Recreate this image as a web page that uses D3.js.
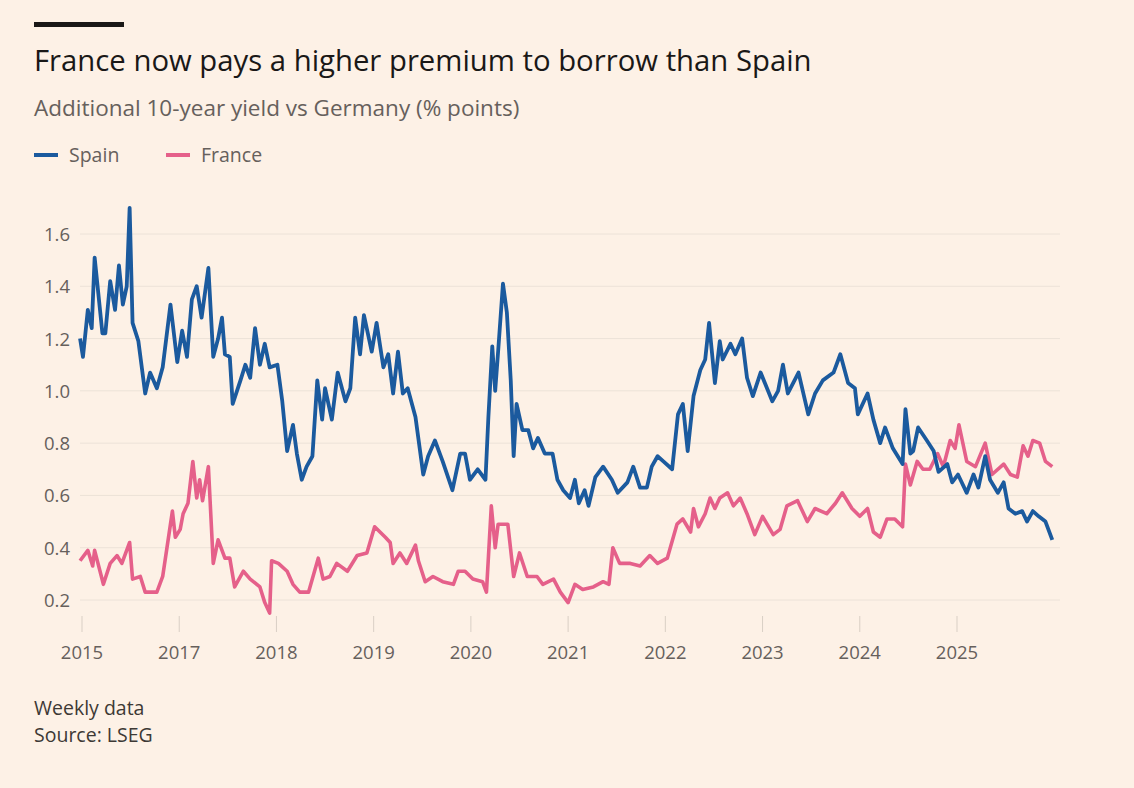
<!DOCTYPE html>
<html>
<head>
<meta charset="utf-8">
<title>France vs Spain spreads</title>
<script src="https://cdn.jsdelivr.net/npm/d3@7/dist/d3.min.js"></script>
<style>
  body { margin: 0; background: #fdf1e6; }
  svg { font-family: "Open Sans", "Noto Sans", sans-serif; }
</style>
</head>
<body>
<svg id="chart" width="1134" height="788"></svg>
<script>
// years since start of 2015 (tick positions) and values, % points
var spainT = [-0.02,0.01,0.06,0.10,0.13,0.21,0.24,0.29,0.34,0.38,0.42,0.46,0.49,0.52,0.58,0.65,0.70,0.77,0.83,0.91,0.98,1.03,1.08,1.13,1.18,1.23,1.30,1.35,1.40,1.44,1.47,1.52,1.55,1.63,1.68,1.73,1.78,1.83,1.88,1.93,2.01,2.06,2.11,2.17,2.21,2.26,2.31,2.37,2.42,2.47,2.50,2.57,2.63,2.71,2.76,2.81,2.86,2.90,2.98,3.03,3.10,3.15,
  3.20,3.25,3.30,3.35,3.43,3.51,3.56,3.63,3.71,3.81,3.89,3.94,3.99,4.07,4.15,4.18,4.22,4.25,4.28,4.33,4.37,4.41,4.44,4.47,4.53,4.59,4.64,4.69,4.76,4.84,4.89,4.95,5.02,5.07,5.11,5.17,5.21,5.28,5.36,5.45,5.51,5.61,5.67,5.74,5.81,5.86,5.92,5.98,6.07,6.13,6.18,6.23,6.29,6.36,6.41,6.45,6.51,
  6.56,6.59,6.67,6.72,6.79,6.84,6.90,6.98,7.10,7.16,7.21,7.26,7.37,7.47,7.54,7.62,7.73,7.80,7.88,7.95,7.98,8.08,8.14,8.21,8.26,8.34,8.44,8.47,8.52,8.55,8.60,8.69,8.76,8.81,8.90,8.95,9.01,9.10,9.17,9.22,9.29,9.34,9.42,9.48,9.53,9.60,9.67,9.72,9.78,9.84,9.91,9.98];
var spainV = [1.20,1.13,1.31,1.24,1.51,1.22,1.22,1.42,1.31,1.48,1.33,1.40,1.70,1.26,1.19,0.99,1.07,1.01,1.09,1.33,1.11,1.23,1.13,1.35,1.40,1.28,1.47,1.13,1.20,1.28,1.14,1.13,0.95,1.04,1.10,1.05,1.24,1.10,1.18,1.09,1.10,0.96,0.77,0.87,0.76,0.66,0.71,0.75,1.04,0.89,1.01,0.89,1.07,0.96,1.01,1.28,1.14,1.29,1.15,1.26,1.09,1.14,
  0.99,1.15,0.99,1.01,0.90,0.68,0.75,0.81,0.73,0.62,0.76,0.76,0.66,0.70,0.66,0.90,1.17,1.00,1.15,1.41,1.30,1.04,0.75,0.95,0.85,0.85,0.78,0.82,0.76,0.76,0.66,0.62,0.59,0.66,0.57,0.62,0.56,0.67,0.71,0.66,0.61,0.65,0.71,0.63,0.63,0.71,0.75,0.73,0.70,0.91,0.95,0.77,0.98,1.08,1.12,1.26,1.03,
  1.19,1.12,1.18,1.14,1.20,1.05,0.98,1.07,0.96,1.00,1.10,0.99,1.07,0.91,0.99,1.04,1.07,1.14,1.03,1.01,0.91,0.99,0.89,0.80,0.86,0.78,0.72,0.93,0.76,0.77,0.86,0.81,0.77,0.69,0.72,0.65,0.68,0.61,0.68,0.63,0.75,0.66,0.61,0.65,0.55,0.53,0.54,0.50,0.54,0.52,0.50,0.43];

var franceT = [-0.02,0.06,0.11,0.13,0.22,0.29,0.36,0.41,0.49,0.52,0.60,0.65,0.77,0.83,0.93,0.96,1.01,1.04,1.09,1.14,1.18,1.21,1.24,1.30,1.35,1.40,1.47,1.52,1.57,1.66,1.73,1.83,1.88,1.93,1.95,2.02,2.11,2.17,2.24,2.33,2.43,2.48,2.55,2.62,2.73,2.83,2.93,3.01,3.12,
  3.17,3.20,3.27,3.34,3.43,3.46,3.53,3.61,3.71,3.82,3.87,3.94,4.02,4.12,4.16,4.21,4.25,4.28,4.38,4.44,4.50,4.58,4.68,4.74,4.85,4.92,5.00,5.07,5.15,5.26,5.36,5.42,5.46,5.53,5.64,5.74,5.84,5.92,6.02,6.12,6.18,6.26,6.29,6.34,6.41,6.46,6.51,
  6.56,6.64,6.70,6.77,6.84,6.92,7.00,7.11,7.18,7.25,7.36,7.46,7.54,7.66,7.75,7.82,7.92,8.00,8.08,8.14,8.21,8.28,8.36,8.44,8.47,8.52,8.59,8.65,8.72,8.80,8.86,8.93,8.98,9.02,9.10,9.19,9.29,9.36,9.48,9.55,9.62,9.68,9.73,9.78,9.85,9.91,9.98];
var franceV = [0.35,0.39,0.33,0.39,0.26,0.34,0.37,0.34,0.42,0.28,0.29,0.23,0.23,0.29,0.54,0.44,0.47,0.53,0.57,0.73,0.59,0.66,0.58,0.71,0.34,0.43,0.36,0.36,0.25,0.31,0.28,0.25,0.19,0.15,0.35,0.34,0.31,0.26,0.23,0.23,0.36,0.28,0.29,0.34,0.31,0.37,0.38,0.48,0.44,
  0.42,0.34,0.38,0.34,0.41,0.35,0.27,0.29,0.27,0.26,0.31,0.31,0.28,0.27,0.23,0.56,0.40,0.49,0.49,0.29,0.38,0.29,0.29,0.26,0.28,0.23,0.19,0.26,0.24,0.25,0.27,0.26,0.40,0.34,0.34,0.33,0.37,0.34,0.36,0.49,0.51,0.46,0.55,0.48,0.53,0.59,0.55,
  0.59,0.61,0.56,0.59,0.53,0.45,0.52,0.45,0.47,0.56,0.58,0.50,0.55,0.53,0.57,0.61,0.55,0.52,0.55,0.46,0.44,0.51,0.51,0.48,0.72,0.64,0.73,0.70,0.70,0.76,0.71,0.81,0.78,0.87,0.73,0.71,0.80,0.68,0.72,0.68,0.67,0.79,0.75,0.81,0.80,0.73,0.71];

var tickYears = [0,1,2,3,4,5,6,7,8,9];
var tickLabels = ["2015","2017","2018","2019","2020","2021","2022","2023","2024","2025"];
var yTicks = [0.2,0.4,0.6,0.8,1.0,1.2,1.4,1.6];

var svg = d3.select("#chart");
var x = d3.scaleLinear().domain([0, 9]).range([82, 957]);
var y = d3.scaleLinear().domain([0.2, 1.6]).range([600, 234]);

svg.append("rect").attr("width",1134).attr("height",788).attr("fill","#fdf1e6");
svg.append("rect").attr("x",34).attr("y",22).attr("width",90).attr("height",5).attr("fill","#1a1817");

svg.append("text").attr("x",34).attr("y",71).attr("font-size",29.3).attr("fill","#1a1817")
  .text("France now pays a higher premium to borrow than Spain");
svg.append("text").attr("x",34).attr("y",116).attr("font-size",22.5).attr("fill","#66605c")
  .text("Additional 10-year yield vs Germany (% points)");

// legend
var legend = [["Spain","#1b5a9e",34],["France","#e5608a",166]];
legend.forEach(function(l){
  svg.append("line").attr("x1",l[2]).attr("x2",l[2]+24).attr("y1",155).attr("y2",155)
    .attr("stroke",l[1]).attr("stroke-width",4);
  svg.append("text").attr("x",l[2]+35).attr("y",162).attr("font-size",19.5).attr("fill","#66605c").text(l[0]);
});

// gridlines + y labels
yTicks.forEach(function(v){
  svg.append("line").attr("x1",80).attr("x2",1060).attr("y1",y(v)).attr("y2",y(v))
    .attr("stroke","#ece2d8").attr("stroke-width",1);
  svg.append("text").attr("x",44).attr("y",y(v)+7).attr("font-size",18.5).attr("fill","#66605c").text(d3.format(".1f")(v));
});

// x ticks
tickYears.forEach(function(t,i){
  svg.append("line").attr("x1",x(t)).attr("x2",x(t)).attr("y1",616).attr("y2",632)
    .attr("stroke","#d9cfc5").attr("stroke-width",1);
  svg.append("text").attr("x",x(t)).attr("y",659).attr("text-anchor","middle")
    .attr("font-size",18.5).attr("fill","#66605c").text(tickLabels[i]);
});

var line = d3.line().x(function(d){return x(d[0]);}).y(function(d){return y(d[1]);});
svg.append("path").datum(d3.zip(franceT, franceV)).attr("d", line)
  .attr("fill","none").attr("stroke","#e5608a").attr("stroke-width",3.6).attr("stroke-linejoin","round");
svg.append("path").datum(d3.zip(spainT, spainV)).attr("d", line)
  .attr("fill","none").attr("stroke","#1b5a9e").attr("stroke-width",3.8).attr("stroke-linejoin","round");

svg.append("text").attr("x",34).attr("y",715).attr("font-size",19.5).attr("fill","#3d3935").text("Weekly data");
svg.append("text").attr("x",34).attr("y",742).attr("font-size",19.5).attr("fill","#3d3935").text("Source: LSEG");
</script>
</body>
</html>
